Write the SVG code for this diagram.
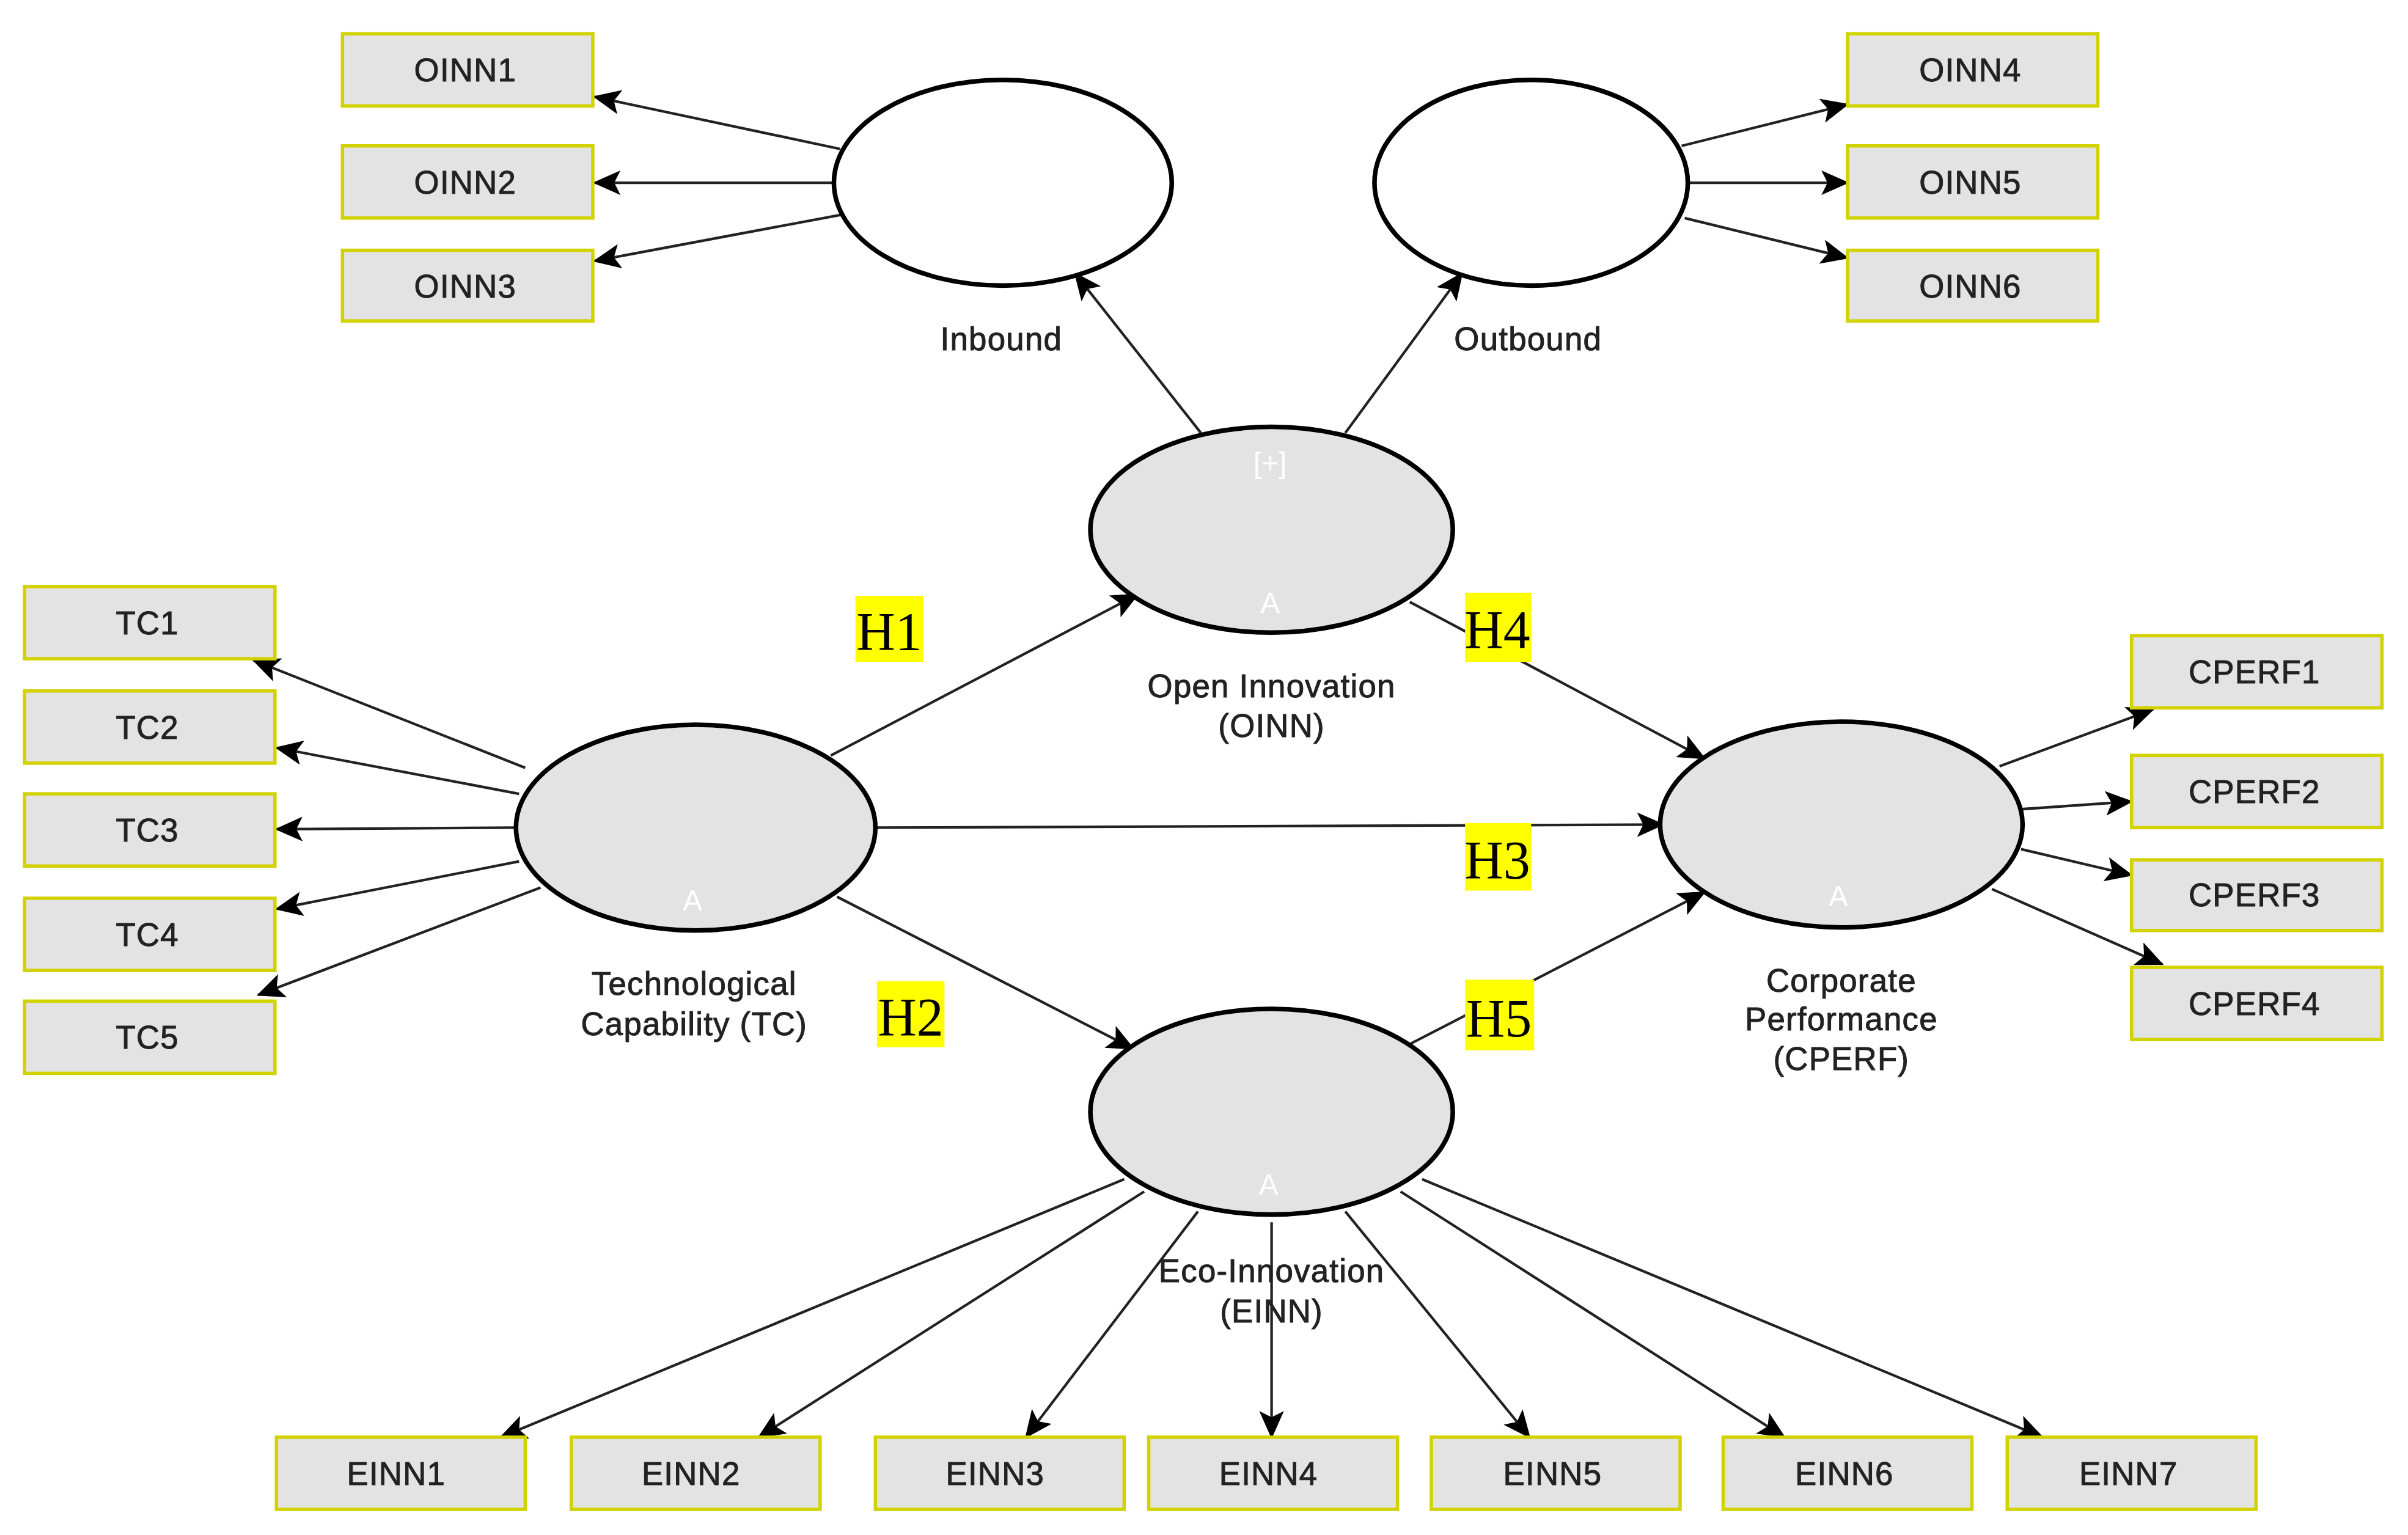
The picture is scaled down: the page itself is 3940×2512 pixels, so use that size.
<svg xmlns="http://www.w3.org/2000/svg" width="3940" height="2512" viewBox="0 0 3940 2512">
<defs>
<marker id="ar" markerUnits="userSpaceOnUse" markerWidth="18" markerHeight="16" refX="17" refY="8" orient="auto" viewBox="0 0 18 16"><path d="M0,0 L18,8 L0,16 L4,8 Z" fill="#000"/></marker>
</defs>
<style>
.box{fill:#e3e3e3;stroke:#d2d200;stroke-width:2.2}
.bt{font-family:"Liberation Sans",Arial,sans-serif;font-size:21px;fill:#222;text-anchor:middle;stroke:#222;stroke-width:0.4;letter-spacing:0.5px}
.lv{fill:#e3e3e3;stroke:#000;stroke-width:3}
.lw{fill:#fff;stroke:#000;stroke-width:3}
.lab{font-family:"Liberation Sans",Arial,sans-serif;font-size:21px;fill:#222;text-anchor:middle;stroke:#222;stroke-width:0.4;letter-spacing:0.5px}
.a{font-family:"Liberation Sans",Arial,sans-serif;font-size:19px;fill:#fff;text-anchor:middle}
.hl{fill:#ffff00}
.h{font-family:"Liberation Serif","Times New Roman",serif;font-size:35px;fill:#000;text-anchor:middle}
.c line{stroke:#222;stroke-width:1.7;marker-end:url(#ar)}
</style>
<rect width="3940" height="2512" fill="#fff"/>
<g transform="scale(2.5128)">
<g class="c" id="connectors">
<line x1="547" y1="97" x2="387" y2="63"/>
<line x1="543" y1="119" x2="387" y2="119"/>
<line x1="547" y1="140" x2="387" y2="170"/>
<line x1="1095" y1="95" x2="1203" y2="68"/>
<line x1="1100" y1="119" x2="1203" y2="119"/>
<line x1="1097" y1="142" x2="1203" y2="168"/>
<line x1="782" y1="282" x2="700" y2="178"/>
<line x1="876" y1="282" x2="952" y2="178"/>
<line x1="541" y1="492" x2="741" y2="387"/>
<line x1="918" y1="392" x2="1110" y2="494"/>
<line x1="570" y1="539" x2="1083" y2="537"/>
<line x1="545" y1="584" x2="738" y2="683"/>
<line x1="918" y1="680" x2="1110" y2="581"/>
<line x1="342" y1="500" x2="165" y2="430"/>
<line x1="338" y1="517" x2="180" y2="487"/>
<line x1="336" y1="539" x2="180" y2="540"/>
<line x1="338" y1="561" x2="180" y2="592"/>
<line x1="352" y1="578" x2="168" y2="648"/>
<line x1="1302" y1="499" x2="1402" y2="462"/>
<line x1="1316" y1="527" x2="1388" y2="522"/>
<line x1="1316" y1="553" x2="1388" y2="570"/>
<line x1="1297" y1="579" x2="1408" y2="628"/>
<line x1="732" y1="768" x2="326" y2="936"/>
<line x1="745" y1="776" x2="494" y2="936"/>
<line x1="780" y1="789" x2="668" y2="936"/>
<line x1="828" y1="796" x2="828" y2="936"/>
<line x1="876" y1="789" x2="996" y2="936"/>
<line x1="912" y1="776" x2="1162" y2="936"/>
<line x1="926" y1="768" x2="1330" y2="936"/>
</g>
<g id="Inbound"><ellipse class="lw" cx="653" cy="119" rx="110" ry="67"/><text class="lab" x="652" y="228">Inbound</text></g>
<g id="Outbound"><ellipse class="lw" cx="997" cy="119" rx="102" ry="67"/><text class="lab" x="995" y="228">Outbound</text></g>
<g id="OINN"><ellipse class="lv" cx="828" cy="345" rx="118" ry="67"/><text class="a" x="827" y="308">[+]</text><text class="a" x="827" y="399">A</text><text class="lab" x="828" y="454">Open Innovation</text><text class="lab" x="828" y="480">(OINN)</text></g>
<g id="TC"><ellipse class="lv" cx="453" cy="539" rx="117" ry="67"/><text class="a" x="451" y="593">A</text><text class="lab" x="452" y="648">Technological</text><text class="lab" x="452" y="674">Capability (TC)</text></g>
<g id="CPERF"><ellipse class="lv" cx="1199" cy="537" rx="118" ry="67"/><text class="a" x="1197" y="590">A</text><text class="lab" x="1199" y="646">Corporate</text><text class="lab" x="1199" y="671">Performance</text><text class="lab" x="1199" y="697">(CPERF)</text></g>
<g id="EINN"><ellipse class="lv" cx="828" cy="724" rx="118" ry="67"/><text class="a" x="826" y="778">A</text><text class="lab" x="828" y="835">Eco-Innovation</text><text class="lab" x="828" y="861">(EINN)</text></g>
<g id="OINN1"><rect class="box" x="223" y="22" width="163" height="47"/><text class="bt" x="303" y="53">OINN1</text></g>
<g id="OINN2"><rect class="box" x="223" y="95" width="163" height="47"/><text class="bt" x="303" y="126">OINN2</text></g>
<g id="OINN3"><rect class="box" x="223" y="163" width="163" height="46"/><text class="bt" x="303" y="194">OINN3</text></g>
<g id="OINN4"><rect class="box" x="1203" y="22" width="163" height="47"/><text class="bt" x="1283" y="53">OINN4</text></g>
<g id="OINN5"><rect class="box" x="1203" y="95" width="163" height="47"/><text class="bt" x="1283" y="126">OINN5</text></g>
<g id="OINN6"><rect class="box" x="1203" y="163" width="163" height="46"/><text class="bt" x="1283" y="194">OINN6</text></g>
<g id="TC1"><rect class="box" x="16" y="382" width="163" height="47"/><text class="bt" x="96" y="413">TC1</text></g>
<g id="TC2"><rect class="box" x="16" y="450" width="163" height="47"/><text class="bt" x="96" y="481">TC2</text></g>
<g id="TC3"><rect class="box" x="16" y="517" width="163" height="47"/><text class="bt" x="96" y="548">TC3</text></g>
<g id="TC4"><rect class="box" x="16" y="585" width="163" height="47"/><text class="bt" x="96" y="616">TC4</text></g>
<g id="TC5"><rect class="box" x="16" y="652" width="163" height="47"/><text class="bt" x="96" y="683">TC5</text></g>
<g id="CPERF1"><rect class="box" x="1388" y="414" width="163" height="47"/><text class="bt" x="1468" y="445">CPERF1</text></g>
<g id="CPERF2"><rect class="box" x="1388" y="492" width="163" height="47"/><text class="bt" x="1468" y="523">CPERF2</text></g>
<g id="CPERF3"><rect class="box" x="1388" y="560" width="163" height="46"/><text class="bt" x="1468" y="590">CPERF3</text></g>
<g id="CPERF4"><rect class="box" x="1388" y="630" width="163" height="47"/><text class="bt" x="1468" y="661">CPERF4</text></g>
<g id="EINN1"><rect class="box" x="180" y="936" width="162" height="47"/><text class="bt" x="258" y="967">EINN1</text></g>
<g id="EINN2"><rect class="box" x="372" y="936" width="162" height="47"/><text class="bt" x="450" y="967">EINN2</text></g>
<g id="EINN3"><rect class="box" x="570" y="936" width="162" height="47"/><text class="bt" x="648" y="967">EINN3</text></g>
<g id="EINN4"><rect class="box" x="748" y="936" width="162" height="47"/><text class="bt" x="826" y="967">EINN4</text></g>
<g id="EINN5"><rect class="box" x="932" y="936" width="162" height="47"/><text class="bt" x="1011" y="967">EINN5</text></g>
<g id="EINN6"><rect class="box" x="1122" y="936" width="162" height="47"/><text class="bt" x="1201" y="967">EINN6</text></g>
<g id="EINN7"><rect class="box" x="1307" y="936" width="162" height="47"/><text class="bt" x="1386" y="967">EINN7</text></g>
<g id="H1"><rect class="hl" x="557" y="388" width="44" height="43"/><text class="h" x="579" y="423">H1</text></g>
<g id="H4"><rect class="hl" x="954" y="386" width="43" height="45"/><text class="h" x="975" y="422">H4</text></g>
<g id="H3"><rect class="hl" x="954" y="536" width="43" height="44"/><text class="h" x="975" y="572">H3</text></g>
<g id="H2"><rect class="hl" x="571" y="639" width="44" height="43"/><text class="h" x="593" y="674">H2</text></g>
<g id="H5"><rect class="hl" x="954" y="638" width="45" height="46"/><text class="h" x="976" y="675">H5</text></g>
</g>
</svg>
